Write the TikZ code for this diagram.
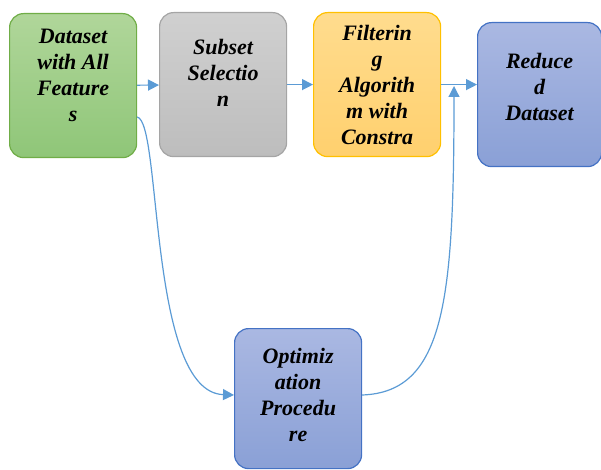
\documentclass[tikz,border=0pt]{standalone}
\usepackage{fontspec}
\setmainfont{Liberation Serif}
\newfontfamily\boxfont{Liberation Serif Bold Italic}
\usetikzlibrary{arrows.meta,positioning}

\definecolor{arrowblue}{HTML}{5B9BD5}
\definecolor{greentop}{HTML}{B0D69A}
\definecolor{greenbot}{HTML}{8FC678}
\definecolor{greenline}{HTML}{70AD47}
\definecolor{graytop}{HTML}{D0D0D0}
\definecolor{graybot}{HTML}{BDBDBD}
\definecolor{grayline}{HTML}{A5A5A5}
\definecolor{yellowtop}{HTML}{FFDC8E}
\definecolor{yellowbot}{HTML}{FFD06E}
\definecolor{yellowline}{HTML}{FFC000}
\definecolor{bluetop}{HTML}{AAB8E2}
\definecolor{bluebot}{HTML}{8AA0D6}
\definecolor{blueline}{HTML}{4472C4}

\begin{document}
\begin{tikzpicture}[x=1pt,y=1pt,
    box/.style={draw,line width=1.2pt,rounded corners=14pt,anchor=north west,
      minimum width=127pt,minimum height=144pt,align=center,
      font=\boxfont\fontsize{22}{26}\selectfont},
    greenbox/.style={box,draw=greenline,top color=greentop,bottom color=greenbot},
    graybox/.style={box,draw=grayline,top color=graytop,bottom color=graybot},
    yellowbox/.style={box,draw=yellowline,top color=yellowtop,bottom color=yellowbot},
    bluebox/.style={box,draw=blueline,top color=bluetop,bottom color=bluebot},
    link/.style={draw=arrowblue,line width=1.2pt,-{Triangle[width=11pt,length=11pt]}}]
   \useasboundingbox (0,0) rectangle (601,-470);

   \node[greenbox] (data) at (9,-13) {Dataset\\with All\\Feature\\s\\[-6pt]};
   \node[graybox] (subset) at (159,-12) {Subset\\Selectio\\n\\[-2pt]};
   \node[yellowbox] (filter) at (313,-12) {Filterin\\g\\Algorith\\m with\\Constra};
   \node[bluebox,minimum width=124pt] (reduced) at (477,-22) {Reduce\\d\\Dataset\\[-10pt]};
   \node[bluebox,minimum height=140pt] (optim) at (234,-328) {Optimiz\\ation\\Procedu\\re\\[-18pt]};

   \coordinate (join) at (454,-86);

   \draw[link] (data) -- (subset);
   \draw[link] (subset) -- (filter);
   \draw[link] (filter.east) -- (filter.east -| reduced.west);
   \draw[link] (data.east |- 0,-117) .. controls (162,-122) and (148,-392) .. (optim.west |- 0,-395);
   \draw[link] (optim.east |- 0,-395) .. controls (445,-392) and (454,-300) .. (join);
\end{tikzpicture}
\end{document}
